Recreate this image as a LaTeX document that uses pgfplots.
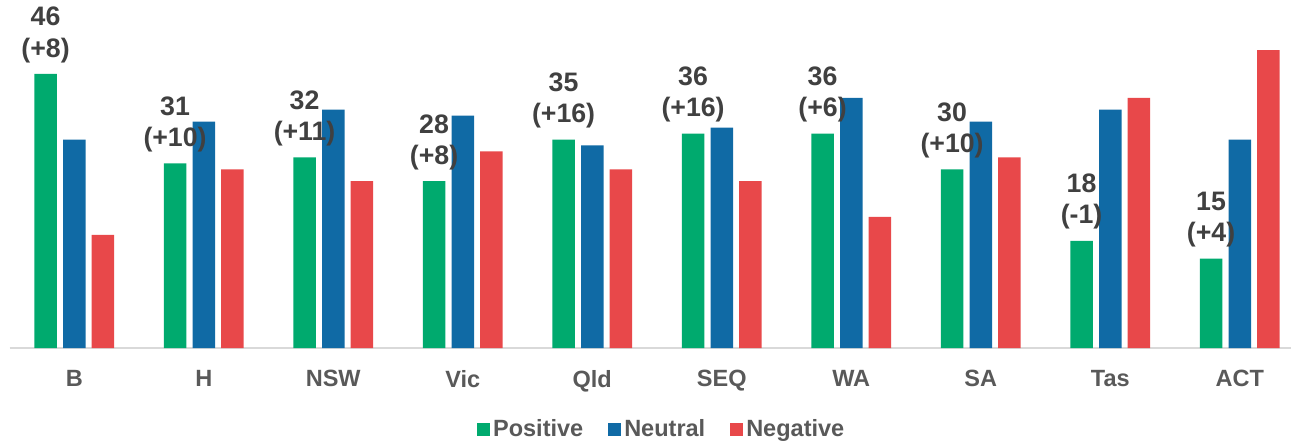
\documentclass[border=0pt]{standalone}
\usepackage{pgfplots}
\usepackage{pgfplotstable}
\pgfplotsset{compat=1.18}
\usepackage{fontspec}
\setmainfont{Liberation Sans}
\definecolor{cpos}{HTML}{00AA6E}
\definecolor{cneu}{HTML}{106AA5}
\definecolor{cneg}{HTML}{E8484A}
\definecolor{labdark}{HTML}{404040}
\definecolor{labgray}{HTML}{595959}

\pgfplotstableread{
x pos neu neg chg
0 46 35 19 +8
1 31 38 30 +10
2 32 40 28 +11
3 28 39 33 +8
4 35 34 30 +16
5 36 37 28 +16
6 36 42 22 +6
7 30 38 32 +10
8 18 40 42 -1
9 15 35 50 +4
}\datatable

\begin{document}
\begin{tikzpicture}
\begin{axis}[
  name=ax,
  scale only axis,
  width=647.5bp, height=174bp,
  xmin=-0.5, xmax=9.5,
  ymin=0, ymax=58.42,
  enlargelimits=false,
  clip=false,
  ybar=3.1bp, bar width=11.25bp,
  axis x line=bottom, axis y line=none,
  x axis line style={draw=black!15, line width=1bp},
  xtick=data,
  xticklabels={B,H,NSW,Vic,Qld,SEQ,WA,SA,Tas,ACT},
  major tick length=0pt,
  xticklabel style={font=\fontsize{11.8}{13}\selectfont\bfseries, text=labgray,
    inner sep=0pt, yshift=-11bp},
  legend columns=3,
  legend style={draw=none, fill=none,
    at={(0.504,-0.233)}, anchor=center,
    font=\fontsize{11.8}{13}\selectfont\bfseries, text=labgray,
    /tikz/every even column/.append style={column sep=11bp},
    nodes={inner sep=1.5bp}},
  legend image code/.code={\fill[#1,draw=none] (0bp,-3.25bp) rectangle (6.5bp,3.25bp);},
]
\addplot[fill=cpos, draw=none,
  point meta=explicit symbolic,
  visualization depends on={rawy\as\posval},
  nodes near coords={\pgfmathtruncatemacro\pv{\posval}\pv\\(\pgfplotspointmeta)},
  every node near coord/.append style={font=\fontsize{13.4}{15.6}\selectfont\bfseries,
    text=labdark, align=center, inner sep=0pt, yshift=5.5bp, anchor=south}]
  table[x=x, y=pos, meta=chg] {\datatable};
\addplot[fill=cneu, draw=none] table[x=x, y=neu] {\datatable};
\addplot[fill=cneg, draw=none] table[x=x, y=neg] {\datatable};
\legend{Positive, Neutral, Negative}
\end{axis}
\pgfresetboundingbox
\path ([xshift=-4.75bp, yshift=-47bp]ax.south west) rectangle ++(645.5bp,221bp);
\end{tikzpicture}
\end{document}
